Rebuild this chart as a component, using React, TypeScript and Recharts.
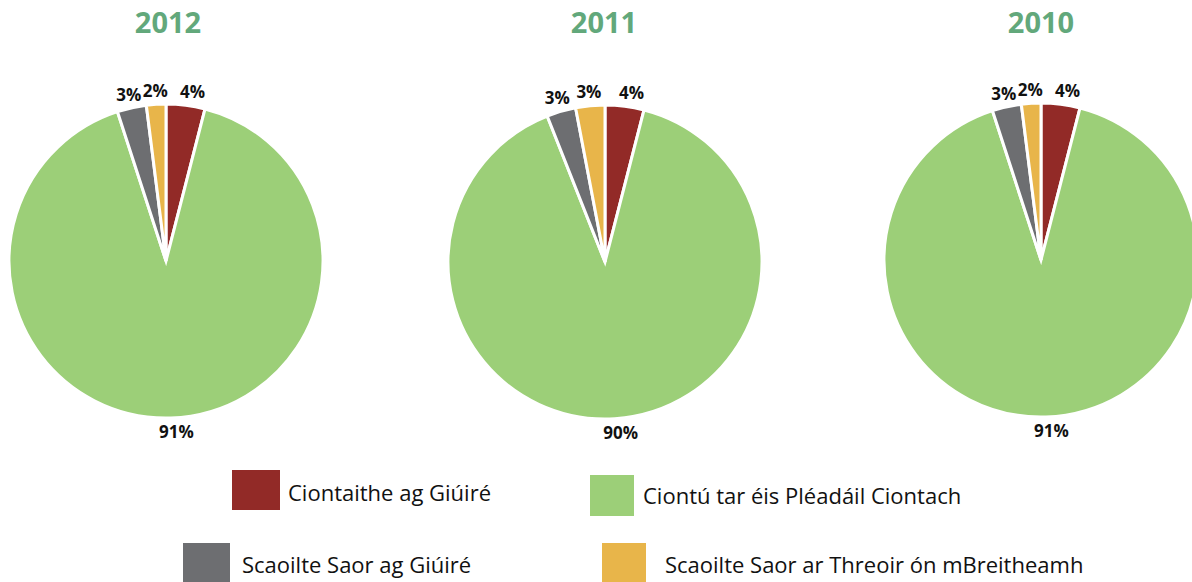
import { PieChart, Pie, Cell } from 'recharts';

const categories = [
  'Ciontaithe ag Giúiré',
  'Ciontú tar éis Pléadáil Ciontach',
  'Scaoilte Saor ag Giúiré',
  'Scaoilte Saor ar Threoir ón mBreitheamh',
];
const colors = ['#922a27', '#9ccf78', '#6d6e71', '#e8b54a'];

const years = ['2012', '2011', '2010'];
const values2012 = [4, 91, 3, 2];
const values2011 = [4, 90, 3, 3];
const values2010 = [4, 91, 3, 2];

const seriesByYear = [values2012, values2011, values2010];
const pieCenters = [
  { cx: 166, cy: 261 },
  { cx: 605, cy: 262 },
  { cx: 1041, cy: 260 },
];
const titleX = [168, 604, 1041];

const RADIAN = Math.PI / 180;

const renderLabel = (props: any) => {
  const { cx, cy, midAngle, outerRadius, value } = props;
  const r = outerRadius + 14;
  const x = cx + r * Math.cos(-midAngle * RADIAN);
  const y = cy + r * Math.sin(-midAngle * RADIAN);
  // nudge the small top labels apart a little, like the original
  const dx = x > cx + 5 ? 5 : 0;
  return (
    <text x={x + dx} y={y} textAnchor="middle" dominantBaseline="central" fill="#111" fontSize={17} fontWeight={700} fontFamily="'Open Sans', sans-serif">
      {`${value}%`}
    </text>
  );
};

const legendItems = [
  { i: 0, box: { left: 232, top: 470, width: 48, height: 40 }, textLeft: 288, textTop: 492 },
  { i: 1, box: { left: 590, top: 475, width: 44, height: 41 }, textLeft: 643, textTop: 495 },
  { i: 2, box: { left: 183, top: 543, width: 47, height: 40 }, textLeft: 242, textTop: 564 },
  { i: 3, box: { left: 602, top: 543, width: 44, height: 40 }, textLeft: 665, textTop: 564 },
];

export default function App() {
  return (
    <div style={{ position: 'absolute', left: 0, top: 0, width: 1192, height: 582, background: '#fff', overflow: 'hidden', fontFamily: "'Open Sans', sans-serif" }}>
      {years.map((yr, k) => (
        <div key={yr} style={{ position: 'absolute', left: titleX[k] - 60, top: 4, width: 120, textAlign: 'center', color: '#62a87b', fontSize: 29, fontWeight: 700, lineHeight: '36px' }}>
          {yr}
        </div>
      ))}
      <div style={{ position: 'absolute', left: 0, top: 0 }}>
        <PieChart width={1192} height={582} margin={{ top: 0, right: 0, bottom: 0, left: 0 }}>
          {seriesByYear.map((vals, k) => (
            <Pie
              key={years[k]}
              data={vals.map((v, i) => ({ name: categories[i], value: v }))}
              dataKey="value"
              cx={pieCenters[k].cx}
              cy={pieCenters[k].cy}
              outerRadius={157}
              startAngle={90}
              endAngle={-270}
              stroke="#fff"
              strokeWidth={3}
              label={renderLabel}
              labelLine={false}
              isAnimationActive={false}
            >
              {vals.map((_, i) => (
                <Cell key={i} fill={colors[i]} />
              ))}
            </Pie>
          ))}
        </PieChart>
      </div>
      {legendItems.map((it) => (
        <div key={it.i}>
          <div style={{ position: 'absolute', left: it.box.left, top: it.box.top, width: it.box.width, height: it.box.height, background: colors[it.i] }} />
          <div style={{ position: 'absolute', left: it.textLeft, top: it.textTop - 14, fontSize: 22, lineHeight: '28px', color: '#111', whiteSpace: 'nowrap' }}>
            {categories[it.i]}
          </div>
        </div>
      ))}
    </div>
  );
}
